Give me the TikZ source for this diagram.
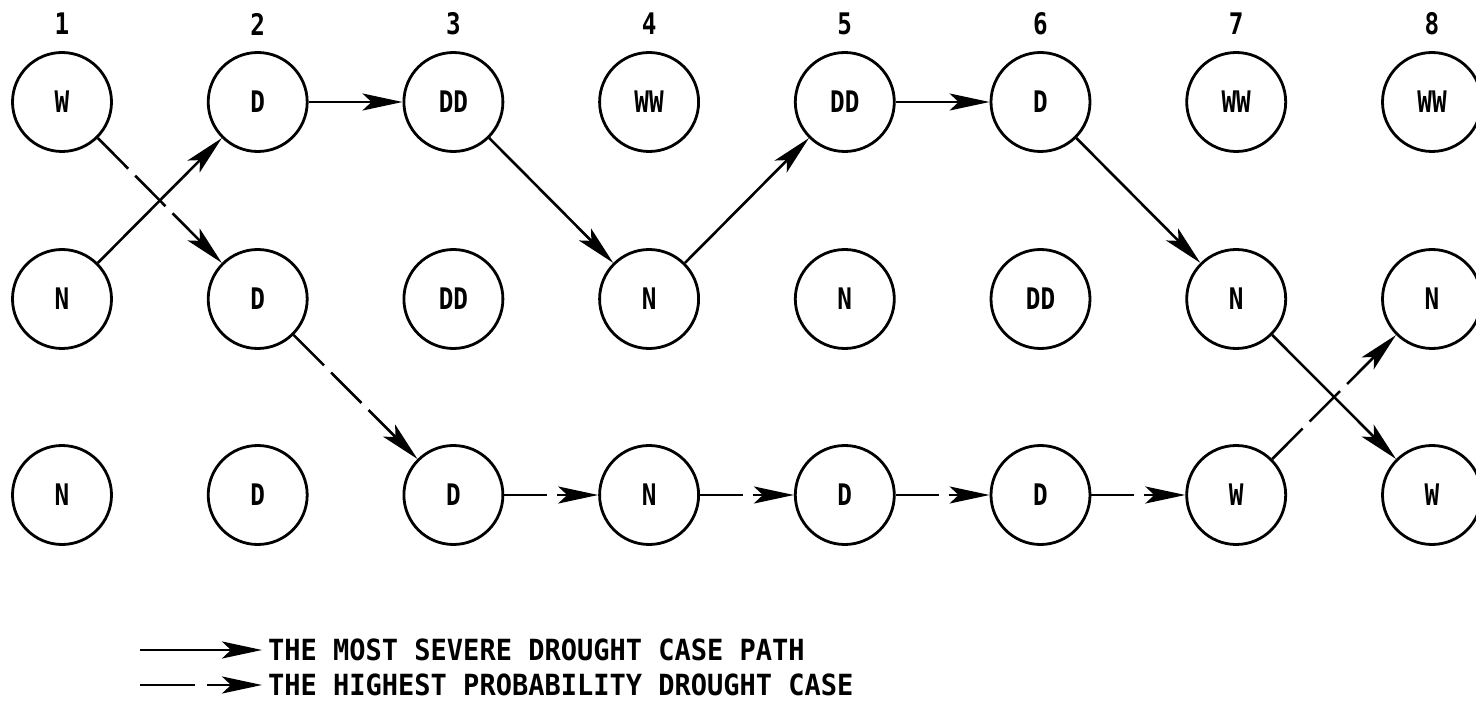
\documentclass[tikz,border=0pt]{standalone}
\usepackage{fontspec}
\newfontfamily\lettering{DejaVu Sans Mono Bold}
\newcommand\narrowtall[1]{\scalebox{0.9}[1.1]{#1}}
\newcommand\legendtall[1]{\scalebox{1}[1.08]{#1}}
\usetikzlibrary{arrows.meta}
\begin{document}
\begin{tikzpicture}[x=1pt,y=-1pt,
  cell/.style={circle, draw, line width=2.8pt, minimum size=99pt, inner sep=0pt,
    font=\lettering\fontsize{27}{27}\selectfont},
  colnum/.style={inner sep=0pt, font=\lettering\fontsize{27}{27}\selectfont},
  legendtext/.style={anchor=west, inner sep=0pt, font=\lettering\fontsize{27}{27}\selectfont},
  arrowtip/.style={-{Stealth[length=40pt,width=17pt,inset=9pt]}},
  severe/.style={arrowtip, line width=2.6pt},
  likely/.style={arrowtip, line width=2.6pt, dash pattern=on 43pt off 10pt},
  likelykey/.style={arrowtip, line width=2.6pt, dash pattern=on 55pt off 12pt}
]
\useasboundingbox (0,0) rectangle (1476,703);

% stage numbers
\node[colnum] (n1) at (62,24)     {\narrowtall{1}};
\node[colnum] (n2) at (257.7,24)  {\narrowtall{2}};
\node[colnum] (n3) at (453.4,24)  {\narrowtall{3}};
\node[colnum] (n4) at (649.1,24)  {\narrowtall{4}};
\node[colnum] (n5) at (844.8,24)  {\narrowtall{5}};
\node[colnum] (n6) at (1040.5,24) {\narrowtall{6}};
\node[colnum] (n7) at (1236.2,24) {\narrowtall{7}};
\node[colnum] (n8) at (1432,24)   {\narrowtall{8}};

% upper row of states
\node[cell] (a1) at (62,102)     {\narrowtall{W}};
\node[cell] (a2) at (257.7,102)  {\narrowtall{D}};
\node[cell] (a3) at (453.4,102)  {\narrowtall{DD}};
\node[cell] (a4) at (649.1,102)  {\narrowtall{WW}};
\node[cell] (a5) at (844.8,102)  {\narrowtall{DD}};
\node[cell] (a6) at (1040.5,102) {\narrowtall{D}};
\node[cell] (a7) at (1236.2,102) {\narrowtall{WW}};
\node[cell] (a8) at (1432,102)   {\narrowtall{WW}};

% middle row of states
\node[cell] (b1) at (62,299)     {\narrowtall{N}};
\node[cell] (b2) at (257.7,299)  {\narrowtall{D}};
\node[cell] (b3) at (453.4,299)  {\narrowtall{DD}};
\node[cell] (b4) at (649.1,299)  {\narrowtall{N}};
\node[cell] (b5) at (844.8,299)  {\narrowtall{N}};
\node[cell] (b6) at (1040.5,299) {\narrowtall{DD}};
\node[cell] (b7) at (1236.2,299) {\narrowtall{N}};
\node[cell] (b8) at (1432,299)   {\narrowtall{N}};

% lower row of states
\node[cell] (c1) at (62,495)     {\narrowtall{N}};
\node[cell] (c2) at (257.7,495)  {\narrowtall{D}};
\node[cell] (c3) at (453.4,495)  {\narrowtall{D}};
\node[cell] (c4) at (649.1,495)  {\narrowtall{N}};
\node[cell] (c5) at (844.8,495)  {\narrowtall{D}};
\node[cell] (c6) at (1040.5,495) {\narrowtall{D}};
\node[cell] (c7) at (1236.2,495) {\narrowtall{W}};
\node[cell] (c8) at (1432,495)   {\narrowtall{W}};

% most severe drought path
\draw[severe] (b1) -- (a2);
\draw[severe] (a2) -- (a3);
\draw[severe] (a3) -- (b4);
\draw[severe] (b4) -- (a5);
\draw[severe] (a5) -- (a6);
\draw[severe] (a6) -- (b7);
\draw[severe] (b7) -- (c8);

% highest probability drought path
\draw[likely] (a1) -- (b2);
\draw[likely] (b2) -- (c3);
\draw[likely] (c3) -- (c4);
\draw[likely] (c4) -- (c5);
\draw[likely] (c5) -- (c6);
\draw[likely] (c6) -- (c7);
\draw[likely] (c7) -- (b8);

% key
\coordinate (k1s) at (140,650);
\coordinate (k1e) at (262,650);
\coordinate (k2s) at (140,685);
\coordinate (k2e) at (262,685);
\draw[severe] (k1s) -- (k1e);
\draw[likelykey] (k2s) -- (k2e);
\node[legendtext] (t1) at (268,650) {\legendtall{THE MOST SEVERE DROUGHT CASE PATH}};
\node[legendtext] (t2) at (268,685) {\legendtall{THE HIGHEST PROBABILITY DROUGHT CASE}};
\end{tikzpicture}
\end{document}
